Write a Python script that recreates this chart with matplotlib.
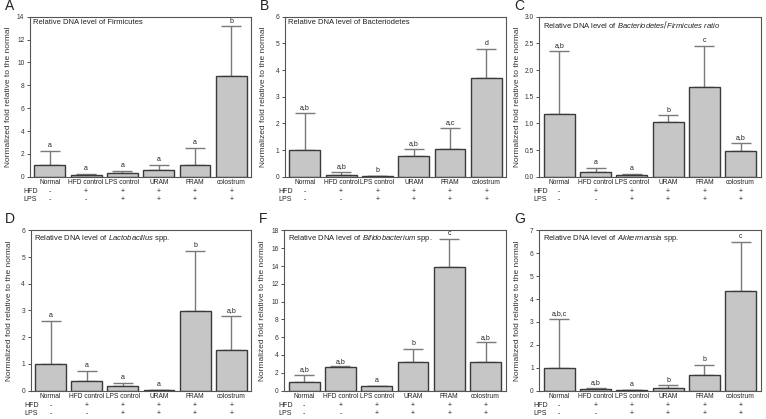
import matplotlib.pyplot as plt
import matplotlib.transforms as mtransforms

groups = ['Normal', 'HFD control', 'LPS control', 'URAM', 'FRAM', 'colostrum']
hfd_signs = ['-', '+', '+', '+', '+', '+']
lps_signs = ['-', '-', '+', '+', '+', '+']

# panel A - Firmicutes
firm_mean = [1.0, 0.2, 0.33, 0.6, 1.0, 8.8]
firm_top = [2.3, 0.25, 0.5, 1.0, 2.55, 13.15]
firm_sig = ['a', 'a', 'a', 'a', 'a', 'b']

# panel B - Bacteriodetes
bact_mean = [1.0, 0.06, 0.02, 0.78, 1.05, 3.72]
bact_top = [2.4, 0.18, 0.02, 1.04, 1.82, 4.78]
bact_sig = ['a,b', 'a,b', 'b', 'a,b', 'a,c', 'd']

# panel C - B/F ratio
ratio_mean = [1.17, 0.09, 0.03, 1.02, 1.68, 0.48]
ratio_top = [2.35, 0.16, 0.06, 1.15, 2.45, 0.64]
ratio_sig = ['a,b', 'a', 'a', 'b', 'c', 'a,b']

# panel D - Lactobacillus
lact_mean = [1.0, 0.35, 0.17, 0.01, 2.98, 1.52]
lact_top = [2.6, 0.75, 0.29, 0.01, 5.22, 2.8]
lact_sig = ['a', 'a', 'a', 'a', 'b', 'a,b']

# panel F - Bifidobacterium
bifi_mean = [1.0, 2.65, 0.55, 3.25, 13.9, 3.15]
bifi_top = [1.8, 2.7, 0.55, 4.7, 17.05, 5.4]
bifi_sig = ['a,b', 'a,b', 'a', 'b', 'c', 'a,b']

# panel G - Akkermansia
akk_mean = [1.0, 0.05, 0.02, 0.13, 0.68, 4.35]
akk_top = [3.12, 0.13, 0.02, 0.22, 1.1, 6.5]
akk_sig = ['a,b,c', 'a,b', 'a', 'b', 'b', 'c']

panels = [
    ('A', [0.039, 0.578, 0.289, 0.382], firm_mean, firm_top, firm_sig, 14, 2, '%d',
     'Relative DNA level of Firmicutes'),
    ('B', [0.372, 0.578, 0.289, 0.382], bact_mean, bact_top, bact_sig, 6, 1, '%d',
     'Relative DNA level of Bacteriodetes'),
    ('C', [0.704, 0.578, 0.289, 0.382], ratio_mean, ratio_top, ratio_sig, 3.0, 0.5, '%.1f',
     'Relative DNA level of $\\it{Bacteriodetes/Firmicutes\\ ratio}$'),
    ('D', [0.040, 0.068, 0.288, 0.382], lact_mean, lact_top, lact_sig, 6, 1, '%d',
     'Relative DNA level of $\\it{Lactobacillus}$ spp.'),
    ('F', [0.371, 0.068, 0.289, 0.382], bifi_mean, bifi_top, bifi_sig, 18, 2, '%d',
     'Relative DNA level of $\\it{Bifidobacterium}$ spp.'),
    ('G', [0.704, 0.068, 0.289, 0.382], akk_mean, akk_top, akk_sig, 7, 1, '%d',
     'Relative DNA level of $\\it{Akkermansia}$ spp.'),
]

fig = plt.figure(figsize=(7.66, 4.19), dpi=100)
plt.rcParams['font.family'] = ['Liberation Sans', 'DejaVu Sans']
plt.rcParams['mathtext.fontset'] = 'custom'
plt.rcParams['mathtext.it'] = 'Liberation Sans:italic'

txt = '#222222'
x = list(range(len(groups)))
for letter, pos, mean, top, sig, ymax, step, fmt, title in panels:
    ax = fig.add_axes(pos)
    err = [t - m for t, m in zip(top, mean)]
    ax.bar(x, mean, width=0.85, color='#c6c6c6', edgecolor='#3a3a3a', linewidth=1.0, zorder=2)
    ax.errorbar(x, mean, yerr=[[0] * len(mean), err], fmt='none', ecolor='#7a7a7a',
                elinewidth=1.0, capsize=7.5, capthick=1.0, zorder=1)
    for xi, t, s in zip(x, top, sig):
        ax.text(xi, t + ymax * 0.012, s, ha='center', va='bottom', fontsize=5, color=txt)
    ax.set_xlim(-0.55, 5.55)
    ax.set_ylim(0, ymax)
    nt = int(round(ymax / step))
    ticks = [i * step for i in range(nt + 1)]
    ax.set_yticks(ticks)
    ax.set_yticklabels([fmt % t for t in ticks], fontsize=4.8)
    ax.tick_params(axis='y', direction='out', length=2, width=0.6, pad=2, colors='#333333')
    ax.set_xticks([])
    for sp in ax.spines.values():
        sp.set_color('#555555')
        sp.set_linewidth(0.8)
    ax.set_ylabel('Normalized fold relative to the normal', fontsize=6, color='#333333')
    ax.yaxis.set_label_coords(-0.082, 0.5)
    ax.text(0.015, 0.985, title, transform=ax.transAxes, ha='left', va='top', fontsize=5.5,
            color=txt)
    trans = mtransforms.blended_transform_factory(ax.transData, ax.transAxes)
    for xi, g, h, l in zip(x, groups, hfd_signs, lps_signs):
        ax.text(xi, -0.038, g, transform=trans, ha='center', va='center', fontsize=4.8, color=txt)
        ax.text(xi, -0.092, h, transform=trans, ha='center', va='center', fontsize=5, color=txt)
        ax.text(xi, -0.142, l, transform=trans, ha='center', va='center', fontsize=5, color=txt)
    ax.text(-0.028, -0.092, 'HFD', transform=ax.transAxes, ha='left', va='center', fontsize=5,
            color=txt)
    ax.text(-0.028, -0.142, 'LPS', transform=ax.transAxes, ha='left', va='center', fontsize=5,
            color=txt)
    fig.text(pos[0] - 0.033, pos[1] + pos[3] + 0.01, letter, ha='left', va='bottom', fontsize=10,
             color=txt)

fig.savefig('out.png', dpi=100)
